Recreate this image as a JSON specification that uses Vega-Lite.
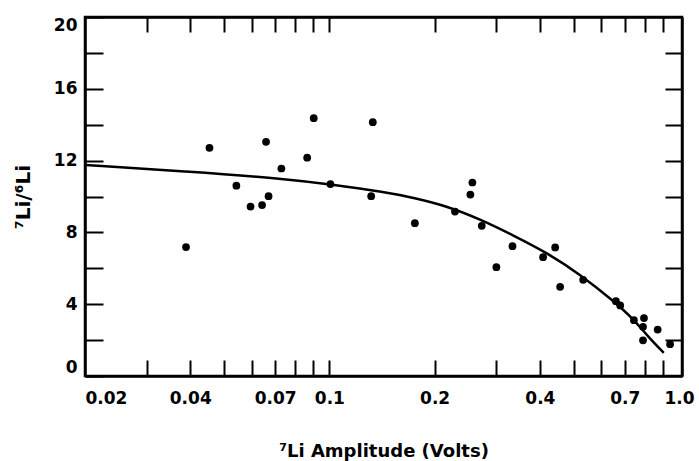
{
  "$schema": "https://vega.github.io/schema/vega-lite/v6.json",
  "width": 597,
  "height": 359,
  "autosize": {"type": "none"},
  "padding": {"left": 85, "top": 17, "right": 17, "bottom": 85},
  "background": "white",
  "config": {
    "view": {"stroke": "black", "strokeWidth": 2.5},
    "axis": {
      "labelFont": "DejaVu Sans",
      "labelFontWeight": "bold",
      "labelFontSize": 17,
      "labelColor": "black",
      "titleFont": "DejaVu Sans",
      "titleFontWeight": "bold",
      "titleColor": "black",
      "domainColor": "black",
      "domainWidth": 2.5,
      "tickColor": "black",
      "tickWidth": 2,
      "grid": false
    }
  },
  "datasets": {
    "points": [
      {"amp": 0.0389, "ratio": 7.18},
      {"amp": 0.0454, "ratio": 12.71},
      {"amp": 0.0542, "ratio": 10.6},
      {"amp": 0.0595, "ratio": 9.44},
      {"amp": 0.0642, "ratio": 9.52},
      {"amp": 0.067, "ratio": 10.02},
      {"amp": 0.0659, "ratio": 13.05},
      {"amp": 0.0729, "ratio": 11.56},
      {"amp": 0.0864, "ratio": 12.16},
      {"amp": 0.0902, "ratio": 14.36},
      {"amp": 0.1007, "ratio": 10.69},
      {"amp": 0.1331, "ratio": 14.14},
      {"amp": 0.1317, "ratio": 10.02},
      {"amp": 0.1756, "ratio": 8.51},
      {"amp": 0.2287, "ratio": 9.16},
      {"amp": 0.2565, "ratio": 10.78},
      {"amp": 0.2531, "ratio": 10.11},
      {"amp": 0.2728, "ratio": 8.37},
      {"amp": 0.3004, "ratio": 6.06},
      {"amp": 0.334, "ratio": 7.23},
      {"amp": 0.4086, "ratio": 6.62},
      {"amp": 0.4424, "ratio": 7.16},
      {"amp": 0.4571, "ratio": 4.97},
      {"amp": 0.532, "ratio": 5.36},
      {"amp": 0.66, "ratio": 4.17},
      {"amp": 0.679, "ratio": 3.93},
      {"amp": 0.743, "ratio": 3.11},
      {"amp": 0.794, "ratio": 3.23},
      {"amp": 0.789, "ratio": 2.74},
      {"amp": 0.789, "ratio": 1.99},
      {"amp": 0.869, "ratio": 2.59},
      {"amp": 0.943, "ratio": 1.77}
    ],
    "curve": [
      {"amp": 0.02, "ratio": 11.75},
      {"amp": 0.0388, "ratio": 11.41},
      {"amp": 0.0749, "ratio": 10.99},
      {"amp": 0.1008, "ratio": 10.67},
      {"amp": 0.1447, "ratio": 10.24},
      {"amp": 0.1744, "ratio": 9.93},
      {"amp": 0.2174, "ratio": 9.46},
      {"amp": 0.2706, "ratio": 8.72},
      {"amp": 0.337, "ratio": 7.82},
      {"amp": 0.4198, "ratio": 6.86},
      {"amp": 0.5227, "ratio": 5.65},
      {"amp": 0.6508, "ratio": 4.17},
      {"amp": 0.7426, "ratio": 3.15},
      {"amp": 0.811, "ratio": 2.25},
      {"amp": 0.9044, "ratio": 1.29}
    ]
  },
  "layer": [
    {
      "data": {"name": "points"},
      "mark": {"type": "circle", "size": 60, "color": "black", "opacity": 1},
      "encoding": {
        "x": {
          "field": "amp",
          "type": "quantitative",
          "scale": {"type": "log", "domain": [0.02, 1.02], "nice": false},
          "axis": {
            "orient": "bottom",
            "values": [0.02, 0.03, 0.04, 0.05, 0.06, 0.07, 0.08, 0.09, 0.1, 0.2, 0.3, 0.4, 0.5, 0.6, 0.7, 0.8, 0.9, 1],
            "labelExpr": "indexof([0.02,0.04,0.07,0.1,0.2,0.4,0.7], datum.value) >= 0 ? toString(datum.value) : (datum.value == 1 ? '1.0' : '')",
            "tickSize": -16,
            "labelPadding": 30,
            "labelFlush": false,
            "labelOverlap": false,
            "labelAlign": {"condition": {"test": "datum.value <= 0.0201", "value": "left"}, "value": "center"},
            "tickOpacity": {"condition": {"test": "datum.value >= 0.99 || datum.value <= 0.0201", "value": 0}, "value": 1},
            "title": "⁷Li Amplitude (Volts)",
            "titleFontSize": 18,
            "titlePadding": 36
          }
        },
        "y": {
          "field": "ratio",
          "type": "quantitative",
          "scale": {"domain": [0, 20], "nice": false, "zero": false},
          "axis": {
            "orient": "left",
            "values": [0, 2, 4, 6, 8, 10, 12, 14, 16, 18, 20],
            "labelExpr": "datum.value % 4 == 0 ? toString(datum.value) : ''",
            "tickSize": -18,
            "labelPadding": 26,
            "labelFlush": true,
            "labelOverlap": false,
            "title": "⁷Li/⁶Li",
            "titleFontSize": 20,
            "titlePadding": 20
          }
        }
      }
    },
    {
      "data": {"name": "curve"},
      "mark": {"type": "line", "color": "black", "strokeWidth": 2.5, "interpolate": "basis"},
      "encoding": {
        "x": {
          "field": "amp",
          "type": "quantitative",
          "scale": {"type": "log", "domain": [0.02, 1.02], "nice": false},
          "axis": {
            "orient": "top",
            "values": [0.03, 0.04, 0.05, 0.06, 0.07, 0.08, 0.09, 0.1, 0.2, 0.3, 0.4, 0.5, 0.6, 0.7, 0.8, 0.9],
            "labels": false,
            "tickSize": -15,
            "title": null
          }
        },
        "y": {
          "field": "ratio",
          "type": "quantitative",
          "scale": {"domain": [0, 20], "nice": false, "zero": false},
          "axis": {
            "orient": "right",
            "values": [2, 4, 6, 8, 10, 12, 14, 16, 18],
            "labels": false,
            "tickSize": -17,
            "title": null
          }
        }
      }
    }
  ],
  "resolve": {"axis": {"x": "independent", "y": "independent"}}
}
